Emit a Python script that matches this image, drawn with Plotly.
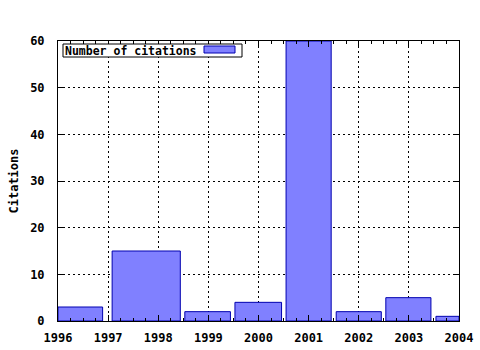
import plotly.graph_objects as go

# Data
years_start = [1996.0, 1997.08, 1998.53, 1999.53, 2000.55, 2001.55, 2002.54, 2003.54]
years_end = [1996.89, 1998.44, 1999.44, 2000.46, 2001.45, 2002.45, 2003.44, 2004.0]
citations = [3, 15, 2, 4, 60, 2, 5, 1]
x_ticks = [1996, 1997, 1998, 1999, 2000, 2001, 2002, 2003, 2004]
y_ticks = [0, 10, 20, 30, 40, 50, 60]

W, H = 480, 350
L, R, T, B = 58, 21, 41, 29
pw, ph = W - L - R, H - T - B

def px(xp):
    return (xp - L) / pw

def py(yp):
    return 1 - (yp - T) / ph

centers = [(a + b) / 2 for a, b in zip(years_start, years_end)]
widths = [b - a for a, b in zip(years_start, years_end)]

FONT = "DejaVu Sans Mono"

fig = go.Figure()
fig.add_trace(go.Bar(
    x=centers, y=citations, width=widths,
    marker=dict(color="#8080ff", line=dict(color="#0000b0", width=1)),
    name="Number of citations", showlegend=False,
))

axis_common = dict(
    showline=True, linecolor="black", linewidth=1, mirror="ticks",
    ticks="inside", tickcolor="black", ticklen=6,
    showgrid=True, gridcolor="black", griddash="2px,3px", gridwidth=1,
    zeroline=False, automargin=False,
    tickfont=dict(family=FONT, size=12, color="black", weight="bold"),
)

fig.update_layout(
    width=W, height=H,
    margin=dict(l=L, r=R, t=T, b=B),
    paper_bgcolor="white", plot_bgcolor="white",
    xaxis=dict(range=[1996, 2004], tickvals=x_ticks, ticktext=[str(v) for v in x_ticks],
               minor=dict(dtick=0.25, tick0=1996, ticks="inside", ticklen=3, tickcolor="black", showgrid=False),
               ticklabelstandoff=6,
               **axis_common),
    yaxis=dict(range=[0, 60], tickvals=y_ticks, ticktext=[str(v) for v in y_ticks],
               ticklabelstandoff=10,
               title=dict(text="Citations", font=dict(family=FONT, size=12, color="black", weight="bold"), standoff=8),
               **axis_common),
    font=dict(family=FONT, color="black"),
)

# Legend box (gnuplot style: text left, sample right)
fig.add_shape(type="rect", xref="paper", yref="paper",
              x0=px(63), x1=px(242), y0=py(57), y1=py(44),
              line=dict(color="black", width=1), fillcolor="white", layer="above")
fig.add_shape(type="rect", xref="paper", yref="paper",
              x0=px(204), x1=px(235), y0=py(53), y1=py(46),
              line=dict(color="#0000b0", width=1), fillcolor="#8080ff", layer="above")
fig.add_annotation(text="Number of citations", xref="paper", yref="paper",
                   x=px(63), y=py(50.5), xanchor="left", yanchor="middle", showarrow=False,
                   font=dict(family=FONT, size=11.5, color="black", weight="bold"))

fig.write_html("out.html")
